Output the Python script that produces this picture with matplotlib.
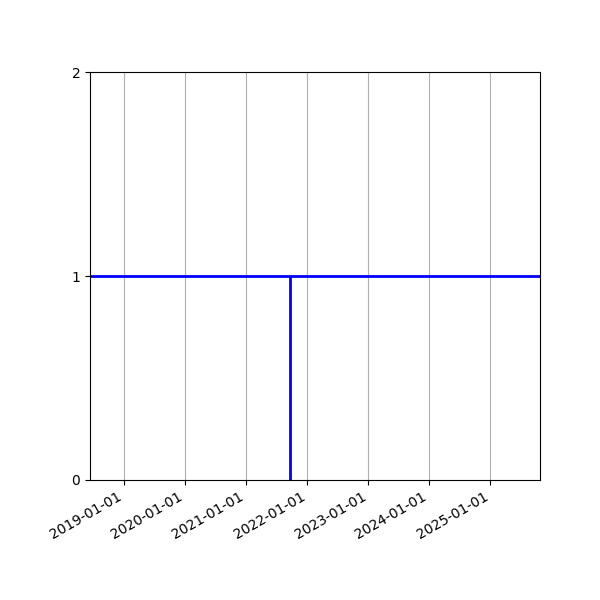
import matplotlib
matplotlib.use("Agg")
import matplotlib.pyplot as plt
import matplotlib.dates as mdates
import numpy as np

# Data
baseline_value = 1
event_dates = np.array(["2021-09-21"], dtype="datetime64[D]")
event_low = [0]
event_high = [1]
x_start = np.datetime64("2018-06-10")
x_end = np.datetime64("2025-10-25")
y_ticks = [0, 1, 2]

fig, ax = plt.subplots(figsize=(6, 6), dpi=100)
ax.axhline(baseline_value, color="blue", linewidth=2)
ax.vlines(event_dates, event_low, event_high, color="blue", linewidth=2)

ax.set_xlim(x_start, x_end)
ax.set_ylim(0, 2)
ax.set_yticks(y_ticks)
ax.xaxis.set_major_locator(mdates.YearLocator())
ax.xaxis.set_major_formatter(mdates.DateFormatter("%Y-%m-%d"))
ax.grid(True, axis="x")
fig.autofmt_xdate()
fig.subplots_adjust(left=0.15, right=0.9, top=0.88, bottom=0.2)
fig.savefig("out.png", dpi=100)
